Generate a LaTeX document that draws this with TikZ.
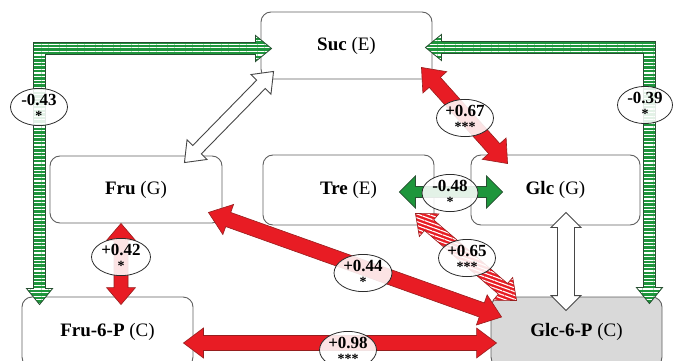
\documentclass[tikz,border=0pt]{standalone}
\usepackage{fontspec}
\setmainfont{Liberation Serif}
\usetikzlibrary{calc,shapes.geometric,patterns.meta}
\definecolor{myred}{RGB}{232,28,36}
\definecolor{myredd}{RGB}{150,30,30}
\definecolor{mygreen}{RGB}{30,150,60}
\definecolor{mygreend}{RGB}{40,80,50}
\definecolor{boxgray}{RGB}{95,95,95}
\definecolor{boxfill}{RGB}{217,217,217}
\definecolor{arrgray}{RGB}{70,70,70}
\definecolor{ellgray}{RGB}{45,45,45}
\newcommand{\fatdbl}[6][]{%
  \coordinate (fdMa) at ($(#2)!#6!(#3)$);
  \coordinate (fdMb) at ($(#3)!#6!(#2)$);
  \path[#1] (#2) -- ($(fdMa)!#5!90:(#3)$) -- ($(fdMa)!#4!90:(#3)$)
    -- ($(fdMb)!#4!-90:(#2)$) -- ($(fdMb)!#5!-90:(#2)$) -- (#3)
    -- ($(fdMb)!#5!90:(#2)$) -- ($(fdMb)!#4!90:(#2)$)
    -- ($(fdMa)!#4!-90:(#3)$) -- ($(fdMa)!#5!-90:(#3)$) -- cycle;}
\newcommand{\starline}[1]{\\[-1pt]{\fontsize{14}{14}\selectfont #1}}
\tikzset{
  box/.style={draw=boxgray, line width=0.9pt, rounded corners=10pt,
    minimum width=171pt, minimum height=67pt, inner sep=0pt,
    font=\fontsize{19}{22}\selectfont},
  corr/.style={ellipse, draw=ellgray, line width=0.8pt, fill=white,
    fill opacity=.88, text opacity=1, inner sep=0pt,
    minimum width=57pt, minimum height=34pt, align=center,
    font=\fontsize{17}{16}\selectfont\bfseries},
  redarrow/.style={fill=myred, draw=myredd, line width=0.6pt},
  whitearrow/.style={fill=white, draw=arrgray, line width=0.9pt},
  greenarrow/.style={fill=mygreen, draw=mygreend, line width=0.7pt},
  greenstripe/.style={preaction={fill=mygreen},
    pattern={Lines[angle=0,distance=3.6pt,line width=1.05pt]},
    pattern color=white, draw=mygreend, line width=0.8pt},
  redstripe/.style={preaction={fill=myred},
    pattern={Lines[angle=-20,distance=3.6pt,line width=1.1pt]},
    pattern color=white, draw=myredd, line width=0.6pt}
}
\begin{document}
\begin{tikzpicture}[x=1pt,y=-1pt]
\useasboundingbox (0,0) rectangle (674,361);
\clip (0,0) rectangle (674,361);
% boxes
\node[box] (suc) at (346.5,45.5) {\textbf{Suc} (E)};
\node[box, minimum width=172pt] (fru) at (136,189.5) {\textbf{Fru} (G)};
\node[box, minimum height=70pt] (tre) at (348.5,190) {\textbf{Tre} (E)};
\node[box, minimum width=169pt, minimum height=70pt] (glc) at (555.5,190) {\textbf{Glc} (G)};
\node[box, minimum height=70pt] (fru6p) at (107.5,332) {\textbf{Fru-6-P} (C)};
\node[box, minimum height=70pt, fill=boxfill] (glc6p) at (576.5,332) {\textbf{Glc-6-P} (C)};
% end points
\coordinate (sg1) at ([shift={(-11,-12)}]suc.south east);
\coordinate (sg2) at ([shift={(37,9)}]glc.north west);
\coordinate (sf1) at ([shift={(13,-8)}]suc.south west);
\coordinate (sf2) at ([shift={(-38,7)}]fru.north east);
\coordinate (ff1) at ([shift={(-15,0)}]fru.south);
\coordinate (ff2) at ([shift={(13.5,8)}]fru6p.north);
\coordinate (fg1) at ([shift={(-14,-11)}]fru.south east);
\coordinate (fg2) at ([shift={(11,-15)}]glc6p.west);
\coordinate (pp1) at ([shift={(-10,11)}]fru6p.east);
\coordinate (pp2) at ([shift={(6,11)}]glc6p.west);
\coordinate (tg1) at ([shift={(-35,2)}]tre.east);
\coordinate (tg2) at ([shift={(32,2)}]glc.west);
\coordinate (tp1) at ([shift={(-19,-12)}]tre.south east);
\coordinate (tp2) at ([shift={(26,4)}]glc6p.north west);
\coordinate (gg1) at ([shift={(10.5,-13)}]glc.south);
\coordinate (gg2) at ([shift={(-10.5,14)}]glc6p.north);
\coordinate (la) at ([shift={(18,8)}]fru6p.north west);
\coordinate (lb) at ([shift={(11,3)}]suc.west);
\coordinate (lc) at (la |- lb);
\coordinate (ra) at ([shift={(-13,7)}]glc6p.north east);
\coordinate (rb) at ([shift={(-7,2)}]suc.east);
\coordinate (rc) at (ra |- rb);
% green L-shaped arrows
\path[greenstripe] (la) -- ($(la)+(13,-16)$) -- ($(la)+(6,-16)$) -- ($(lc)+(6,6)$)
  -- ($(lb)+(-16,6)$) -- ($(lb)+(-16,13)$) -- (lb) -- ($(lb)+(-16,-13)$)
  -- ($(lb)+(-16,-6)$) -- ($(lc)+(-6,-6)$) -- ($(la)+(-6,-16)$) -- ($(la)+(-13,-16)$) -- cycle;
\path[greenstripe] (ra) -- ($(ra)+(13,-16)$) -- ($(ra)+(6,-16)$) -- ($(rc)+(6,-6)$)
  -- ($(rb)+(16,-6)$) -- ($(rb)+(16,-13)$) -- (rb) -- ($(rb)+(16,13)$)
  -- ($(rb)+(16,6)$) -- ($(rc)+(-6,6)$) -- ($(ra)+(-6,-16)$) -- ($(ra)+(-13,-16)$) -- cycle;
% straight arrows
\fatdbl[whitearrow]{sf1}{sf2}{6pt}{14pt}{18pt}
\fatdbl[whitearrow]{gg1}{gg2}{8.5pt}{15pt}{15pt}
\fatdbl[redarrow]{sg1}{sg2}{7.5pt}{16pt}{20pt}
\fatdbl[redarrow]{ff1}{ff2}{7pt}{14.5pt}{17pt}
\fatdbl[redarrow]{fg1}{fg2}{7.5pt}{16pt}{21pt}
\fatdbl[redarrow]{pp1}{pp2}{7.5pt}{15pt}{20pt}
\fatdbl[greenarrow]{tg1}{tg2}{5.5pt}{16pt}{16pt}
\fatdbl[redstripe]{tp1}{tp2}{7pt}{15pt}{18pt}
% correlation labels
\node[corr] (e1) at (39,107) {-0.43\starline{*}};
\node[corr, minimum width=55pt, minimum height=36pt] (e2) at (645,105) {-0.39\starline{*}};
\node[corr, minimum height=35pt] (e3) at (465,118) {+0.67\starline{***}};
\node[corr, minimum width=56pt, minimum height=32pt] (e4) at (450,193) {-0.48\starline{*}};
\node[corr, minimum height=33pt] (e5) at (467,258) {+0.65\starline{***}};
\node[corr, minimum width=58pt, minimum height=31pt] (e6) at (363,273) {+0.44\starline{*}};
\node[corr, minimum width=59pt, minimum height=36pt] (e7) at (121,257) {+0.42\starline{*}};
\node[corr] (e8) at (348,350) {+0.98\starline{***}};
\end{tikzpicture}
\end{document}
